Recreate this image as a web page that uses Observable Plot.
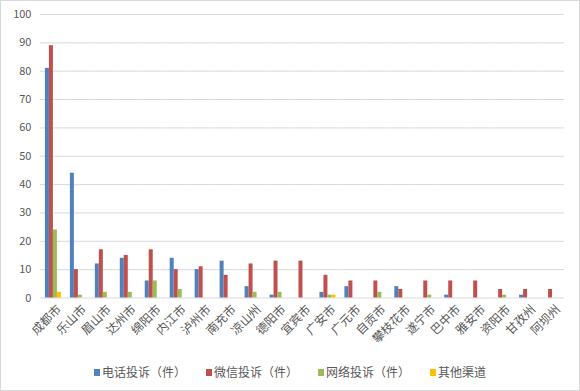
<!DOCTYPE html>
<html>
<head>
<meta charset="utf-8">
<script src="https://cdn.jsdelivr.net/npm/d3@7"></script>
<script src="https://cdn.jsdelivr.net/npm/@observablehq/plot@0.6"></script>
<style>
  html, body { margin: 0; padding: 0; background: #fff; }
  #frame {
    position: relative; width: 580px; height: 391px; box-sizing: border-box;
    border: 1px solid #d9d9d9; background: #fff; overflow: hidden;
    font-family: "Noto Sans CJK SC", "Noto Sans", sans-serif;
  }
  #chart { position: absolute; left: -1px; top: -1px; }
  #legend {
    position: absolute; left: 0; right: 0; top: 361px;
    display: flex; justify-content: center; align-items: center;
    font-size: 12px; color: #595959; line-height: 20px;
  }
  .item { display: flex; align-items: center; margin: 0 10px; }
  .sw { width: 6px; height: 7px; margin-right: 2px; }
</style>
</head>
<body>
<div id="frame">
  <div id="chart"></div>
  <div id="legend"></div>
</div>
<script>
const cities = ["成都市","乐山市","眉山市","达州市","绵阳市","内江市","泸州市","南充市","凉山州","德阳市","宜宾市","广安市","广元市","自贡市","攀枝花市","遂宁市","巴中市","雅安市","资阳市","甘孜州","阿坝州"];
const seriesNames = ["电话投诉（件）","微信投诉（件）","网络投诉（件）","其他渠道"];
const phone  = [81,44,12,14,6,14,10,13,4,1,0,2,4,0,4,0,1,0,0,1,0];
const wechat = [89,10,17,15,17,10,11,8,12,13,13,8,6,6,3,6,6,6,3,3,3];
const online = [24,1,2,2,6,3,0,0,2,2,0,1,0,2,0,1,0,0,1,0,0];
const other  = [2,0,0,0,0,0,0,0,0,0,0,1,0,0,0,0,0,0,0,0,0];
const colors = ["#4F81BD","#C0504D","#9BBB59","#FFC000"];
const yTicks = [0,10,20,30,40,50,60,70,80,90,100];

const seriesValues = [phone, wechat, online, other];
const data = [];
cities.forEach((c, i) => {
  seriesNames.forEach((s, j) => {
    data.push({city: c, series: s, value: seriesValues[j][i]});
  });
});

const chart = Plot.plot({
  width: 580,
  height: 362,
  marginLeft: 38,
  marginRight: 14,
  marginTop: 14,
  marginBottom: 64,
  style: {fontFamily: "'Noto Sans CJK SC', 'Noto Sans', sans-serif", color: "#595959", background: "transparent"},
  fx: {domain: cities, padding: 0, axis: null},
  x: {domain: seriesNames, paddingInner: 0.07, paddingOuter: 0.93, axis: null},
  y: {domain: [0, 100], ticks: yTicks},
  color: {domain: seriesNames, range: colors},
  marks: [
    Plot.ruleY(yTicks, {stroke: "#d9d9d9", strokeWidth: 1}),
    Plot.barY(data, {fx: "city", x: "series", y: "value", fill: "series"}),
    Plot.axisY({ticks: yTicks, tickSize: 0, tickPadding: 9, fontSize: 11, fill: "#595959", label: null}),
    Plot.text(cities, {
      fx: d => d, text: d => d, frameAnchor: "bottom",
      rotate: -45, textAnchor: "end", lineAnchor: "top",
      dx: 3, dy: 6, fontSize: 12, fill: "#595959"
    })
  ]
});
document.getElementById("chart").appendChild(chart);

const legend = document.getElementById("legend");
seriesNames.forEach((s, j) => {
  const item = document.createElement("div");
  item.className = "item";
  const sw = document.createElement("span");
  sw.className = "sw";
  sw.style.background = colors[j];
  const t = document.createElement("span");
  t.textContent = s;
  item.appendChild(sw);
  item.appendChild(t);
  legend.appendChild(item);
});
</script>
</body>
</html>
